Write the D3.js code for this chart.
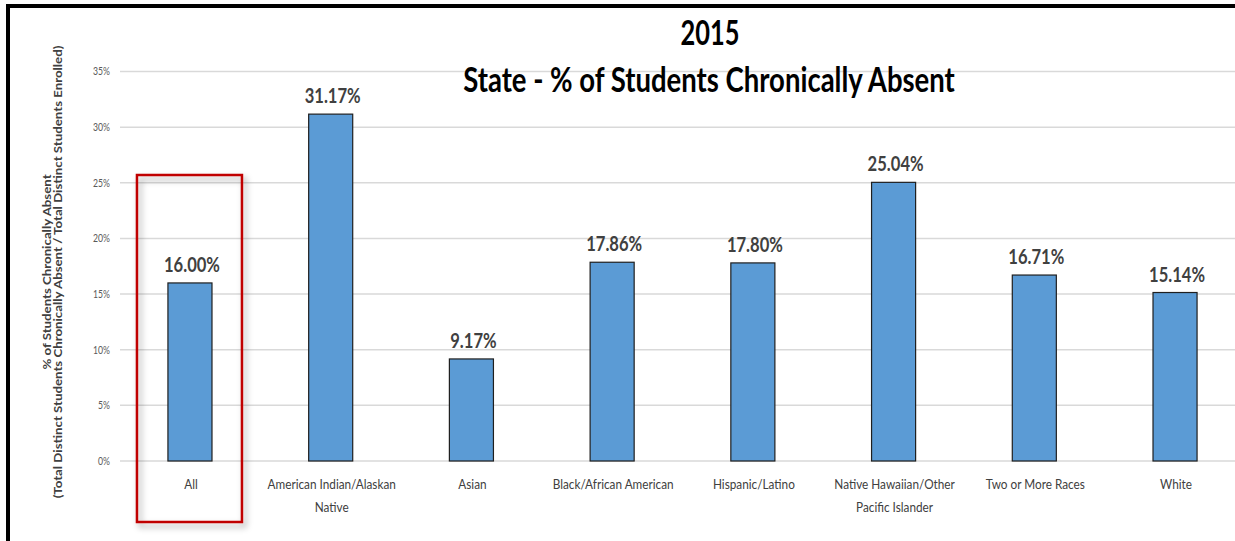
<!DOCTYPE html>
<html>
<head>
<meta charset="utf-8">
<script src="https://cdn.jsdelivr.net/npm/d3@7"></script>
<style>
  html, body { margin: 0; padding: 0; background: #fff; }
  svg { display: block; }
  text { font-family: Lato, "Open Sans", sans-serif; }
</style>
</head>
<body>
<svg id="chart" width="1235" height="541"></svg>
<script>
// ---- data ----
const categories = ["All", "American Indian/Alaskan Native", "Asian", "Black/African American",
  "Hispanic/Latino", "Native Hawaiian/Other Pacific Islander", "Two or More Races", "White"];
const categoryLines = [["All"], ["American Indian/Alaskan", "Native"], ["Asian"], ["Black/African American"],
  ["Hispanic/Latino"], ["Native Hawaiian/Other", "Pacific Islander"], ["Two or More Races"], ["White"]];
const values = [16.00, 31.17, 9.17, 17.86, 17.80, 25.04, 16.71, 15.14];
const valueLabels = ["16.00%", "31.17%", "9.17%", "17.86%", "17.80%", "25.04%", "16.71%", "15.14%"];
const yTicks = [0, 5, 10, 15, 20, 25, 30, 35];
const yTickLabels = ["0%", "5%", "10%", "15%", "20%", "25%", "30%", "35%"];
const titleLines = ["2015", "State - % of Students Chronically Absent"];
const yTitleLines = ["% of Students Chronically Absent",
  "(Total Distinct Students Chronically Absent / Total Distinct Students Enrolled)"];
const highlighted = "All";

// ---- layout ----
const svg = d3.select("#chart");
const x = d3.scaleBand().domain(categories).range([119.6, 1245.4]).paddingInner(0.687).paddingOuter(0.3435);
const y = d3.scaleLinear().domain([0, 35]).range([461, 71.5]);

// helper: text horizontally scaled to a target width (for a reference string)
function fitScale(fontSize, weight, sample, target) {
  const t = svg.append("text").attr("font-size", fontSize).attr("font-weight", weight).text(sample);
  const w = t.node().getComputedTextLength();
  t.remove();
  return target / w;
}

const defs = svg.append("defs");
const f = defs.append("filter").attr("id", "shadow").attr("x", "-20%").attr("y", "-20%").attr("width", "150%").attr("height", "150%");
f.append("feDropShadow").attr("dx", 3).attr("dy", 4).attr("stdDeviation", 3)
  .attr("flood-color", "#000").attr("flood-opacity", 0.35);

// gridlines
svg.append("g").selectAll("line").data(yTicks).join("line")
  .attr("x1", 120).attr("x2", 1235)
  .attr("y1", d => y(d)).attr("y2", d => y(d))
  .attr("stroke", "#d9d9d9").attr("stroke-width", 1.5);

// tick labels
const tickS = fitScale(10.5, 400, "35%", 17);
svg.append("g").selectAll("text").data(yTicks).join("text")
  .attr("transform", d => `translate(110,${y(d)}) scale(${tickS},1)`)
  .attr("text-anchor", "end").attr("dominant-baseline", "central")
  .attr("font-size", 10.5).attr("fill", "#595959")
  .text((d, i) => yTickLabels[i]);

// bars
svg.append("g").selectAll("rect").data(values).join("rect")
  .attr("x", (d, i) => x(categories[i]))
  .attr("width", x.bandwidth())
  .attr("y", d => y(d))
  .attr("height", d => y(0) - y(d))
  .attr("fill", "#5B9BD5").attr("stroke", "#1f1f1f").attr("stroke-width", 1.2);

// value labels
const valS = fitScale(21, 700, "16.00%", 56);
svg.append("g").selectAll("text").data(values).join("text")
  .attr("transform", (d, i) => `translate(${x(categories[i]) + x.bandwidth() / 2 + 2},${y(d) - 11}) scale(${valS},1)`)
  .attr("text-anchor", "middle")
  .attr("font-size", 21).attr("font-weight", 700).attr("fill", "#404040")
  .text((d, i) => valueLabels[i]);

// x labels
const xS = fitScale(13.5, 400, "Black/African American", 121);
const xl = svg.append("g").selectAll("g").data(categories).join("g");
xl.each(function (c, i) {
  const g = d3.select(this);
  categoryLines[i].forEach((line, j) => {
    g.append("text")
      .attr("transform", `translate(${x(c) + x.bandwidth() / 2 + 1},${489 + j * 23}) scale(${xS},1)`)
      .attr("text-anchor", "middle")
      .attr("font-size", 13.5).attr("fill", "#404040")
      .text(line);
  });
});

// y-axis title (rotated)
const yt1S = fitScale(10.5, 700, yTitleLines[1], 453);
yTitleLines.forEach((line, j) => {
  svg.append("text")
    .attr("transform", `translate(${51 + j * 11},272) rotate(-90) scale(${yt1S},1)`)
    .attr("text-anchor", "middle")
    .attr("font-size", 10.5).attr("font-weight", 700).attr("fill", "#404040")
    .text(line);
});

// title
const t0S = fitScale(34, 700, titleLines[0], 59);
const t1S = fitScale(34, 700, titleLines[1], 492);
svg.append("text").attr("transform", `translate(710,45) scale(${t0S},1)`)
  .attr("text-anchor", "middle").attr("font-size", 34).attr("font-weight", 700).attr("fill", "#000")
  .text(titleLines[0]);
svg.append("text").attr("transform", `translate(709,92) scale(${t1S},1)`)
  .attr("text-anchor", "middle").attr("font-size", 34).attr("font-weight", 700).attr("fill", "#000")
  .text(titleLines[1]);

// highlight box around "All"
const hx = x(highlighted) + x.bandwidth() / 2;
svg.append("rect")
  .attr("x", hx - 53).attr("y", 175).attr("width", 105).attr("height", 347)
  .attr("fill", "none").attr("stroke", "#C00000").attr("stroke-width", 2.5)
  .attr("filter", "url(#shadow)");

// frame border (top and left)
svg.append("line").attr("x1", 6).attr("x2", 1235).attr("y1", 6).attr("y2", 6)
  .attr("stroke", "#000").attr("stroke-width", 4);
svg.append("line").attr("x1", 8).attr("x2", 8).attr("y1", 4).attr("y2", 541)
  .attr("stroke", "#000").attr("stroke-width", 4);
</script>
</body>
</html>
